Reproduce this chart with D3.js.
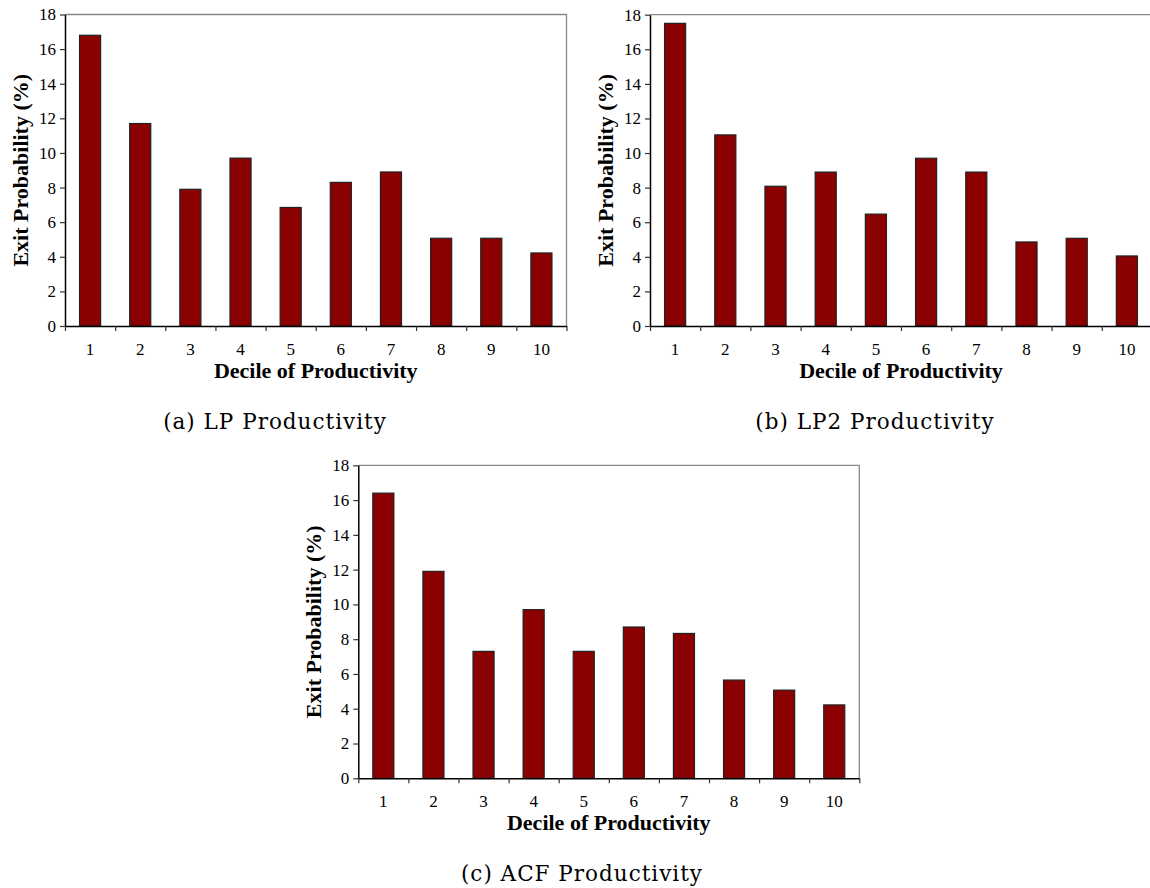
<!DOCTYPE html>
<html>
<head>
<meta charset="utf-8">
<script src="https://cdn.jsdelivr.net/npm/d3@7"></script>
<style>
  body { margin: 0; background: #fff; }
  svg { display: block; }
  .tick text { font-family: "Liberation Serif", "Times New Roman", serif; font-size: 17px; fill: #000; }
  .axis-label { font-family: "Liberation Serif", "Times New Roman", serif; font-weight: bold; font-size: 22px; }
  .caption { font-family: "DejaVu Serif", "Liberation Serif", serif; font-size: 21.5px; letter-spacing: 1px; }
</style>
</head>
<body>
<div id="chart"></div>
<script>
var deciles = ["1", "2", "3", "4", "5", "6", "7", "8", "9", "10"];
var yTicks = [0, 2, 4, 6, 8, 10, 12, 14, 16, 18];

// exit probability (%) by decile
var lpValues  = [16.8, 11.7, 7.9, 9.7, 6.85, 8.3, 8.9, 5.07, 5.07, 4.22];
var lp2Values = [17.5, 11.05, 8.08, 8.9, 6.47, 9.7, 8.9, 4.86, 5.07, 4.05];
var acfValues = [16.4, 11.9, 7.3, 9.7, 7.3, 8.7, 8.33, 5.65, 5.07, 4.22];

var captions = ["(a) LP Productivity", "(b) LP2 Productivity", "(c) ACF Productivity"];

var width = 1150,
    height = 888;

var panels = [
  {values: lpValues,  caption: captions[0], x0: 65,    x1: 566.5, top: 14.5,  bottom: 326,   capX: 275, capY: 421},
  {values: lp2Values, caption: captions[1], x0: 650,   x1: 1152,  top: 14.7,  bottom: 326,   capX: 875, capY: 421},
  {values: acfValues, caption: captions[2], x0: 358.3, x1: 859.3, top: 465.3, bottom: 778.3, capX: 582, capY: 873}
];

var svg = d3.select("#chart").append("svg")
  .attr("width", width)
  .attr("height", height);

function drawPanel(p) {
  var g = svg.append("g");

  var x = d3.scaleBand()
    .domain(deciles)
    .range([p.x0, p.x1])
    .paddingInner(0.58)
    .paddingOuter(0.29);

  // category boundaries, for the tick marks between bars
  var xb = d3.scaleLinear()
    .domain([0, deciles.length])
    .range([p.x0, p.x1]);

  var y = d3.scaleLinear()
    .domain([0, 18])
    .range([p.bottom, p.top]);

  // grey frame on top and right
  g.append("path")
    .attr("d", "M" + p.x0 + "," + p.top + "H" + p.x1 + "V" + p.bottom)
    .attr("fill", "none")
    .attr("stroke", "#888")
    .attr("stroke-width", 1.3);

  g.selectAll("rect.bar")
    .data(p.values)
    .enter()
    .append("rect")
    .attr("class", "bar")
    .attr("x", function(d, i) { return x(deciles[i]); })
    .attr("y", function(d) { return y(d); })
    .attr("width", x.bandwidth())
    .attr("height", function(d) { return y(0) - y(d); })
    .attr("fill", "#8b0000")
    .attr("stroke", "#222")
    .attr("stroke-width", 1.2);

  // y axis
  var ya = g.append("g")
    .attr("transform", "translate(" + p.x0 + ",0)")
    .call(d3.axisLeft(y).tickValues(yTicks).tickSize(5).tickSizeOuter(0).tickPadding(4));
  ya.select(".domain").attr("stroke", "#000").attr("stroke-width", 1.5);
  ya.selectAll(".tick line").attr("stroke", "#333").attr("stroke-width", 1.2);

  // x axis: boundary ticks
  var xa = g.append("g")
    .attr("transform", "translate(0," + p.bottom + ")")
    .call(d3.axisBottom(xb).tickValues(d3.range(0, deciles.length + 1)).tickFormat("").tickSize(5).tickSizeOuter(0));
  xa.select(".domain").attr("stroke", "#000").attr("stroke-width", 1.5);
  xa.selectAll(".tick line").attr("stroke", "#333").attr("stroke-width", 1.2);

  // x axis: labels under bars
  var xl = g.append("g")
    .attr("transform", "translate(0," + p.bottom + ")")
    .call(d3.axisBottom(x).tickSize(0).tickPadding(17));
  xl.select(".domain").remove();

  g.append("text")
    .attr("class", "axis-label")
    .attr("x", (p.x0 + p.x1) / 2)
    .attr("y", p.bottom + 52)
    .attr("text-anchor", "middle")
    .text("Decile of Productivity");

  g.append("text")
    .attr("class", "axis-label")
    .attr("transform", "translate(" + (p.x0 - 37) + "," + ((p.top + p.bottom) / 2) + ") rotate(-90)")
    .attr("text-anchor", "middle")
    .text("Exit Probability (%)");

  g.append("text")
    .attr("class", "caption")
    .attr("x", p.capX)
    .attr("y", p.capY)
    .attr("text-anchor", "middle")
    .attr("dominant-baseline", "central")
    .text(p.caption);
}

panels.forEach(drawPanel);
</script>
</body>
</html>
